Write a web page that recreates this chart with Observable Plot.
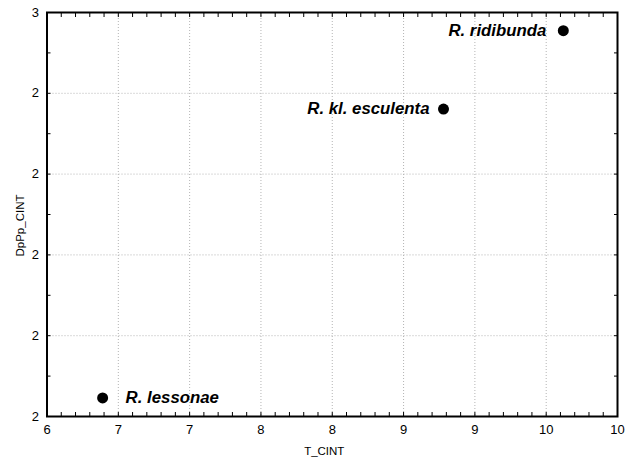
<!DOCTYPE html>
<html><head><meta charset="utf-8">
<script src="https://cdn.jsdelivr.net/npm/d3@7"></script>
<script src="https://cdn.jsdelivr.net/npm/@observablehq/plot@0.6"></script>
<style>html,body{margin:0;padding:0;background:#fff} #chart svg{display:block}</style>
</head><body><div id="chart"></div>
<script>
const species = ["R. lessonae", "R. kl. esculenta", "R. ridibunda"];
const tCint = [6.39, 8.78, 9.62];
const dpppCint = [2.046, 2.761, 2.955];
const xTicks = [6, 6.5, 7, 7.5, 8, 8.5, 9, 9.5, 10];
const xTickLabels = ["6", "7", "7", "8", "8", "9", "9", "10", "10"];
const yTicks = [2, 2.2, 2.4, 2.6, 2.8, 3];
const yTickLabels = ["2", "2", "2", "2", "2", "3"];
const xTitle = "T_CINT";
const yTitle = "DpPp_CINT";

const data = species.map((s, i) => ({name: s, x: tCint[i], y: dpppCint[i]}));
const minorX = d3.range(60, 101).map(v => v / 10);
const minorY = d3.range(20, 31).map(v => v / 10);
const xLab = new Map(xTicks.map((t, i) => [t, xTickLabels[i]]));
const yLab = new Map(yTicks.map((t, i) => [t, yTickLabels[i]]));
const font = "'Liberation Sans', Arial, sans-serif";
const labelFont = {fontSize: 16.8, fontWeight: "bold", fontStyle: "italic", fill: "black"};

const chart = Plot.plot({
  width: 633,
  height: 466,
  marginLeft: 46.5,
  marginTop: 12,
  marginRight: 16,
  marginBottom: 50,
  style: {fontFamily: font, background: "white", color: "black"},
  x: {domain: [6, 10]},
  y: {domain: [2, 3]},
  marks: [
    Plot.gridX(xTicks, {stroke: "#b4b4b4", strokeOpacity: 1, strokeDasharray: "1,2"}),
    Plot.gridY(yTicks, {stroke: "#b4b4b4", strokeOpacity: 1, strokeDasharray: "1,2"}),
    Plot.axisX({anchor: "bottom", ticks: xTicks, tickSize: 0, tickPadding: 8, fontSize: 13, tickFormat: d => xLab.get(d), label: null}),
    Plot.axisY({anchor: "left", ticks: yTicks, tickSize: 0, tickPadding: 8, fontSize: 13, tickFormat: d => yLab.get(d), label: null}),
    Plot.axisX({anchor: "bottom", ticks: minorX, tickSize: -4, text: null, label: null}),
    Plot.axisX({anchor: "top", ticks: minorX, tickSize: -4, text: null, label: null}),
    Plot.axisY({anchor: "left", ticks: minorY, tickSize: -4, text: null, label: null}),
    Plot.axisY({anchor: "right", ticks: minorY, tickSize: -4, text: null, label: null}),
    Plot.frame({stroke: "black", strokeWidth: 2}),
    Plot.dot(data, {x: "x", y: "y", r: 5.5, fill: "black", stroke: "none"}),
    Plot.text(data.filter(d => d.name === species[0]), {x: "x", y: "y", text: "name", textAnchor: "start", dx: 23, ...labelFont}),
    Plot.text(data.filter(d => d.name === species[1]), {x: "x", y: "y", text: "name", textAnchor: "end", dx: -14, ...labelFont}),
    Plot.text(data.filter(d => d.name === species[2]), {x: "x", y: "y", text: "name", textAnchor: "end", dx: -17, ...labelFont}),
    Plot.text([xTitle], {frameAnchor: "bottom", text: d => d, fontSize: 11.5, textAnchor: "middle", dy: 38, dx: -8, fill: "black"}),
    Plot.text([yTitle], {frameAnchor: "left", text: d => d, fontSize: 11.5, rotate: -90, textAnchor: "middle", dx: -27, dy: 11, fill: "black"})
  ]
});
document.getElementById("chart").append(chart);
</script>
</body></html>
